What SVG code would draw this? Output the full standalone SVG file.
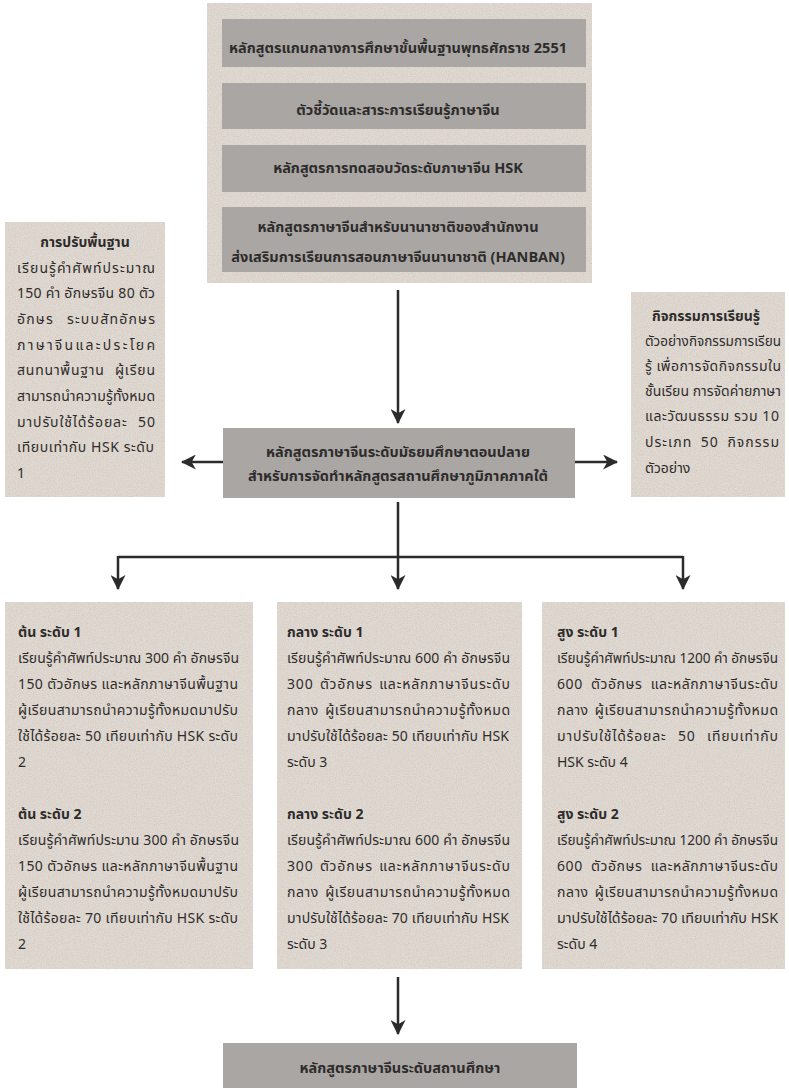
<svg xmlns="http://www.w3.org/2000/svg" width="789" height="1088" viewBox="0 0 789 1088">
<defs>
<style>
.light{fill:#e1dad3}
.dark{fill:#a9a6a3}
text{font-family:Tahoma,"Noto Sans Thai","Noto Sans",sans-serif;fill:#2e2c2b}
.t{font-size:14px}
.h{font-size:14.5px;font-weight:bold}
.c{text-anchor:middle}
.b{font-size:14px;font-weight:bold}
.conn{stroke:#2b2b2b;stroke-width:2.5;fill:none}
</style>
<filter id="grain" x="0" y="0" width="100%" height="100%">
<feTurbulence type="fractalNoise" baseFrequency="0.85" numOctaves="2" seed="7" result="n"/>
<feColorMatrix in="n" type="matrix" values="0 0 0 0 0.45  0 0 0 0 0.38  0 0 0 0 0.34  0 0 0 0.6 -0.2" result="g"/>
<feComposite in="g" in2="SourceGraphic" operator="in" result="gi"/>
<feMerge><feMergeNode in="SourceGraphic"/><feMergeNode in="gi"/></feMerge>
</filter>
<marker id="ah" viewBox="0 0 14 14" refX="13" refY="7" markerWidth="15" markerHeight="15" markerUnits="userSpaceOnUse" orient="auto">
<path d="M0,0 L14,7 L0,14 L4,7 z" fill="#2b2b2b"/>
</marker>
</defs>
<rect width="789" height="1088" fill="#ffffff"/>

<g id="top-block">
<rect class="light" filter="url(#grain)" x="207" y="3" width="385" height="280"/>
<g id="n-core">
<rect class="dark" x="222" y="19" width="364" height="48"/>
<text class="h c" x="398" y="53">หลักสูตรแกนกลางการศึกษาขั้นพื้นฐานพุทธศักราช 2551</text>
</g>
<g id="n-indicators">
<rect class="dark" x="222" y="83" width="364" height="46"/>
<text class="h c" x="398" y="115">ตัวชี้วัดและสาระการเรียนรู้ภาษาจีน</text>
</g>
<g id="n-hsk">
<rect class="dark" x="222" y="145" width="364" height="47"/>
<text class="h c" x="398" y="173">หลักสูตรการทดสอบวัดระดับภาษาจีน HSK</text>
</g>
<g id="n-hanban">
<rect class="dark" x="222" y="207" width="364" height="65"/>
<text class="h c" x="398" y="232">หลักสูตรภาษาจีนสำหรับนานาชาติของสำนักงาน</text>
<text class="h c" x="398" y="262">ส่งเสริมการเรียนการสอนภาษาจีนนานาชาติ (HANBAN)</text>
</g>
</g>

<g id="n-basic">
<rect class="light" filter="url(#grain)" x="5" y="222" width="160" height="275"/>
<text class="b c" x="85" y="247">การปรับพื้นฐาน</text>
<text class="t" x="17" y="273" textLength="138" lengthAdjust="spacing">เรียนรู้คำศัพท์ประมาณ</text>
<text class="t" x="17" y="298" textLength="138" lengthAdjust="spacing">150 คำ อักษรจีน 80 ตัว</text>
<text class="t" x="17" y="324" textLength="138" lengthAdjust="spacing" word-spacing="8">อักษร ระบบสัทอักษร</text>
<text class="t" x="17" y="350" textLength="138" lengthAdjust="spacing">ภาษาจีนและประโยค</text>
<text class="t" x="17" y="375" textLength="138" lengthAdjust="spacing" word-spacing="6">สนทนาพื้นฐาน ผู้เรียน</text>
<text class="t" x="17" y="401" textLength="138" lengthAdjust="spacing">สามารถนำความรู้ทั้งหมด</text>
<text class="t" x="17" y="427" textLength="138" lengthAdjust="spacing" word-spacing="6">มาปรับใช้ได้ร้อยละ 50</text>
<text class="t" x="17" y="452" textLength="137" lengthAdjust="spacing">เทียบเท่ากับ HSK ระดับ</text>
<text class="t" x="17" y="478">1</text>
</g>

<g id="n-activities">
<rect class="light" filter="url(#grain)" x="631" y="292" width="154" height="205"/>
<text class="b c" x="706" y="321">กิจกรรมการเรียนรู้</text>
<text class="t" x="645" y="346" textLength="136" lengthAdjust="spacingAndGlyphs">ตัวอย่างกิจกรรมการเรียน</text>
<text class="t" x="645" y="371" textLength="136" lengthAdjust="spacing">รู้ เพื่อการจัดกิจกรรมใน</text>
<text class="t" x="645" y="396" textLength="136" lengthAdjust="spacingAndGlyphs">ชั้นเรียน การจัดค่ายภาษา</text>
<text class="t" x="645" y="421" textLength="134" lengthAdjust="spacing">และวัฒนธรรม รวม 10</text>
<text class="t" x="645" y="447" textLength="134" lengthAdjust="spacing" word-spacing="4">ประเภท 50 กิจกรรม</text>
<text class="t" x="645" y="473">ตัวอย่าง</text>
</g>

<g id="n-upper-secondary">
<rect class="dark" x="223" y="428" width="352" height="70"/>
<text class="h c" x="398" y="457">หลักสูตรภาษาจีนระดับมัธยมศึกษาตอนปลาย</text>
<text class="h c" x="398" y="481">สำหรับการจัดทำหลักสูตรสถานศึกษาภูมิภาคภาคใต้</text>
</g>

<g id="n-beginner">
<rect class="light" filter="url(#grain)" x="5" y="602" width="248" height="367"/>
<text class="b" x="18" y="637">ต้น ระดับ 1</text>
<text class="t" x="18" y="663" textLength="221" lengthAdjust="spacing">เรียนรู้คำศัพท์ประมาณ 300 คำ อักษรจีน</text>
<text class="t" x="18" y="689" textLength="220" lengthAdjust="spacing">150 ตัวอักษร และหลักภาษาจีนพื้นฐาน</text>
<text class="t" x="18" y="715" textLength="220" lengthAdjust="spacing">ผู้เรียนสามารถนำความรู้ทั้งหมดมาปรับ</text>
<text class="t" x="18" y="741" textLength="220" lengthAdjust="spacing">ใช้ได้ร้อยละ 50 เทียบเท่ากับ HSK ระดับ</text>
<text class="t" x="18" y="767">2</text>
<text class="b" x="18" y="819">ต้น ระดับ 2</text>
<text class="t" x="18" y="845" textLength="221" lengthAdjust="spacing">เรียนรู้คำศัพท์ประมาน 300 คำ อักษรจีน</text>
<text class="t" x="18" y="871" textLength="220" lengthAdjust="spacing">150 ตัวอักษร และหลักภาษาจีนพื้นฐาน</text>
<text class="t" x="18" y="897" textLength="220" lengthAdjust="spacing">ผู้เรียนสามารถนำความรู้ทั้งหมดมาปรับ</text>
<text class="t" x="18" y="923" textLength="220" lengthAdjust="spacing">ใช้ได้ร้อยละ 70 เทียบเท่ากับ HSK ระดับ</text>
<text class="t" x="18" y="949">2</text>
</g>

<g id="n-intermediate">
<rect class="light" filter="url(#grain)" x="277" y="602" width="245" height="367"/>
<text class="b" x="287" y="637">กลาง ระดับ 1</text>
<text class="t" x="287" y="663" textLength="223" lengthAdjust="spacing">เรียนรู้คำศัพท์ประมาณ 600 คำ อักษรจีน</text>
<text class="t" x="287" y="689" textLength="223" lengthAdjust="spacing" word-spacing="2">300 ตัวอักษร และหลักภาษาจีนระดับ</text>
<text class="t" x="287" y="715" textLength="223" lengthAdjust="spacing" word-spacing="2">กลาง ผู้เรียนสามารถนำความรู้ทั้งหมด</text>
<text class="t" x="287" y="741" textLength="222" lengthAdjust="spacing">มาปรับใช้ได้ร้อยละ 50 เทียบเท่ากับ HSK</text>
<text class="t" x="287" y="767">ระดับ 3</text>
<text class="b" x="287" y="819">กลาง ระดับ 2</text>
<text class="t" x="287" y="845" textLength="223" lengthAdjust="spacing">เรียนรู้คำศัพท์ประมาณ 600 คำ อักษรจีน</text>
<text class="t" x="287" y="871" textLength="223" lengthAdjust="spacing" word-spacing="2">300 ตัวอักษร และหลักภาษาจีนระดับ</text>
<text class="t" x="287" y="897" textLength="223" lengthAdjust="spacing" word-spacing="2">กลาง ผู้เรียนสามารถนำความรู้ทั้งหมด</text>
<text class="t" x="287" y="923" textLength="222" lengthAdjust="spacing">มาปรับใช้ได้ร้อยละ 70 เทียบเท่ากับ HSK</text>
<text class="t" x="287" y="949">ระดับ 3</text>
</g>

<g id="n-advanced">
<rect class="light" filter="url(#grain)" x="542" y="602" width="243" height="367"/>
<text class="b" x="557" y="637">สูง ระดับ 1</text>
<text class="t" x="557" y="663" textLength="221" lengthAdjust="spacingAndGlyphs">เรียนรู้คำศัพท์ประมาณ 1200 คำ อักษรจีน</text>
<text class="t" x="557" y="689" textLength="221" lengthAdjust="spacing" word-spacing="4">600 ตัวอักษร และหลักภาษาจีนระดับ</text>
<text class="t" x="557" y="715" textLength="221" lengthAdjust="spacing" word-spacing="2">กลาง ผู้เรียนสามารถนำความรู้ทั้งหมด</text>
<text class="t" x="557" y="741" textLength="221" lengthAdjust="spacing" word-spacing="7">มาปรับใช้ได้ร้อยละ 50 เทียบเท่ากับ</text>
<text class="t" x="557" y="767">HSK ระดับ 4</text>
<text class="b" x="557" y="819">สูง ระดับ 2</text>
<text class="t" x="557" y="845" textLength="221" lengthAdjust="spacingAndGlyphs">เรียนรู้คำศัพท์ประมาณ 1200 คำ อักษรจีน</text>
<text class="t" x="557" y="871" textLength="221" lengthAdjust="spacing" word-spacing="4">600 ตัวอักษร และหลักภาษาจีนระดับ</text>
<text class="t" x="557" y="897" textLength="221" lengthAdjust="spacing" word-spacing="2">กลาง ผู้เรียนสามารถนำความรู้ทั้งหมด</text>
<text class="t" x="557" y="923" textLength="221" lengthAdjust="spacingAndGlyphs">มาปรับใช้ได้ร้อยละ 70 เทียบเท่ากับ HSK</text>
<text class="t" x="557" y="949">ระดับ 4</text>
</g>

<g id="n-school">
<rect class="dark" x="223" y="1043" width="354" height="50"/>
<text class="h c" x="400" y="1073">หลักสูตรภาษาจีนระดับสถานศึกษา</text>
</g>

<g id="connectors">
<line class="conn" x1="398" y1="290" x2="398" y2="423" marker-end="url(#ah)"/>
<line class="conn" x1="223" y1="462" x2="182" y2="462" marker-end="url(#ah)"/>
<line class="conn" x1="575" y1="462" x2="617" y2="462" marker-end="url(#ah)"/>
<line class="conn" x1="398" y1="502" x2="398" y2="589" marker-end="url(#ah)"/>
<polyline class="conn" points="118,557 683,557"/>
<line class="conn" x1="118" y1="556" x2="118" y2="589" marker-end="url(#ah)"/>
<line class="conn" x1="683" y1="556" x2="683" y2="589" marker-end="url(#ah)"/>
<line class="conn" x1="398" y1="977" x2="398" y2="1034" marker-end="url(#ah)"/>
</g>
</svg>
